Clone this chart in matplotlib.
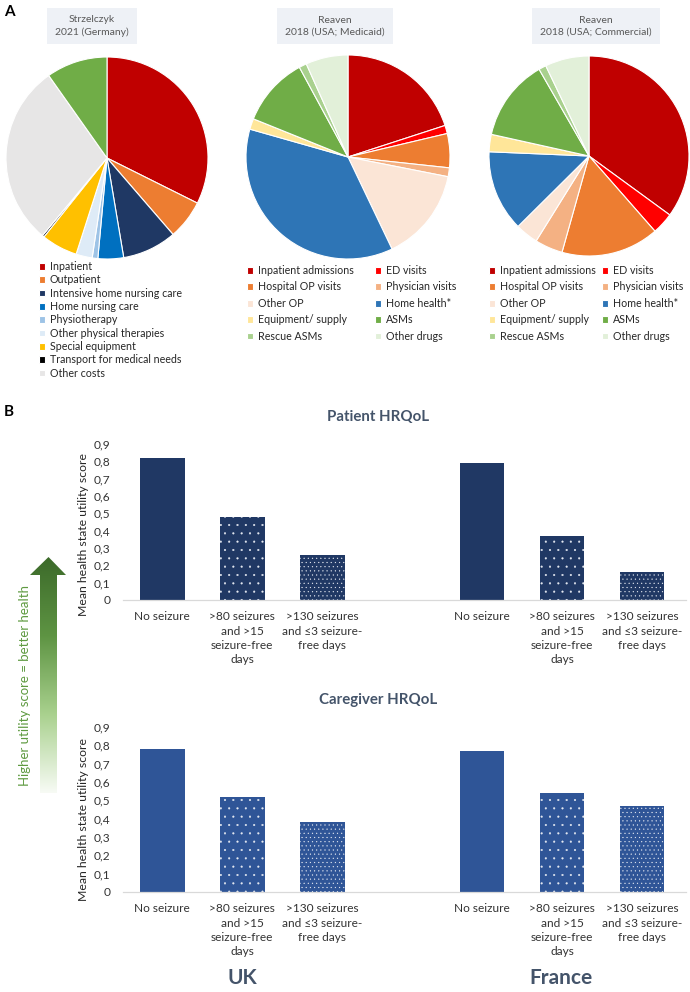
import matplotlib.pyplot as plt
import numpy as np
from matplotlib.colors import LinearSegmentedColormap
from matplotlib.patches import Polygon
from matplotlib.ticker import FuncFormatter

# --- panel A data: cost shares (%) ---
germany_labels = ["Inpatient", "Outpatient", "Intensive home nursing care", "Home nursing care",
                  "Physiotherapy", "Other physical therapies", "Special equipment",
                  "Transport for medical needs", "Other costs"]
germany_costs = [32.4, 6.3, 8.7, 4.1, 0.9, 2.6, 5.8, 0.3, 29.2, 9.8]  # last slice has no legend entry
germany_colors = ["#C00000", "#ED7D31", "#1F3864", "#0070C0", "#9DC3E6", "#DEEBF7",
                  "#FFC000", "#000000", "#E7E6E6", "#70AD47"]

reaven_labels = ["Inpatient admissions", "ED visits", "Hospital OP visits", "Physician visits",
                 "Other OP", "Home health*", "Equipment/ supply", "ASMs", "Rescue ASMs", "Other drugs"]
medicaid_costs = [20.0, 1.3, 5.4, 1.4, 14.8, 36.5, 1.7, 11.0, 1.2, 6.7]
commercial_costs = [35.0, 3.5, 15.8, 4.5, 3.7, 13.1, 2.8, 13.2, 1.2, 7.1]
reaven_colors = ["#C00000", "#FF0000", "#ED7D31", "#F4B183", "#FBE5D6",
                 "#2E75B6", "#FFE699", "#70AD47", "#A9D18E", "#E2F0D9"]

# --- panel B data: mean health state utility scores ---
states = ["No seizure", ">80 seizures\nand >15\nseizure-free\ndays",
          ">130 seizures\nand \u22643 seizure-\nfree days"]
countries = ["UK", "France"]
patient_uk = [0.82, 0.48, 0.26]
patient_fr = [0.79, 0.37, 0.16]
caregiver_uk = [0.78, 0.52, 0.38]
caregiver_fr = [0.77, 0.54, 0.47]
hatches = [None, "..", "...."]

plt.rcParams['font.family'] = ['Lato', 'DejaVu Sans']
plt.rcParams['hatch.linewidth'] = 0.3

W, H = 690, 992
fig = plt.figure(figsize=(6.9, 9.92), dpi=100)
fig.patch.set_facecolor("white")


def fx(x):
    return x / W


def fy(y):
    return 1 - y / H


def px_axes(x0, y0, x1, y1):
    return fig.add_axes([x0 / W, 1 - y1 / H, (x1 - x0) / W, (y1 - y0) / H])


# overlay for the gradient arrow
ov = fig.add_axes([0, 0, 1, 1])
ov.set_xlim(0, W)
ov.set_ylim(H, 0)
ov.axis('off')
arrow_pts = [(40, 793), (40, 575), (30, 575), (48.5, 557), (66, 575), (57, 575), (57, 793)]
arrow = Polygon(arrow_pts, closed=True, facecolor='none', edgecolor='none')
ov.add_patch(arrow)
green_cmap = LinearSegmentedColormap.from_list("g", ["#3C6A2A", "#5E9443", "#A9D18E", "#F8FBF5"])
im = ov.imshow(np.linspace(0, 1, 256).reshape(-1, 1), extent=[30, 66, 793, 557],
               cmap=green_cmap, aspect='auto')
im.set_clip_path(arrow)
fig.text(fx(25), fy(685), "Higher utility score = better health", rotation=90,
         ha='center', va='center', color='#5E9A40', fontsize=9.5)


def draw_pie(cx, cy, r, values, colors):
    pad = r * 1.03
    ax = px_axes(cx - pad, cy - pad, cx + pad, cy + pad)
    wedges, _ = ax.pie(values, colors=colors, startangle=90, counterclock=False,
                       wedgeprops=dict(edgecolor='white', linewidth=0.8))
    ax.set_xlim(-1.03, 1.03)
    ax.set_ylim(-1.03, 1.03)
    return wedges


def title_box(x, y, s):
    fig.text(fx(x), fy(y), s, ha='center', va='center', fontsize=7.5, color='#595959',
             linespacing=1.35, bbox=dict(boxstyle='square,pad=0.75', fc='#EEF1F6', ec='none'))


fig.text(fx(4), fy(12), "A", fontsize=11, fontweight='bold', va='center')
fig.text(fx(4), fy(412), "B", fontsize=11, fontweight='bold', va='center')

title_box(92, 26, "Strzelczyk\n2021 (Germany)")
title_box(335, 26, "Reaven\n2018 (USA; Medicaid)")
title_box(596, 26, "Reaven\n2018 (USA; Commercial)")

w1 = draw_pie(107, 158, 101, germany_costs, germany_colors)
w2 = draw_pie(348, 157, 102, medicaid_costs, reaven_colors)
w3 = draw_pie(589, 156, 100, commercial_costs, reaven_colors)

leg_kw = dict(loc='upper left', frameon=False, fontsize=7.7, handlelength=0.6, handleheight=0.6,
              handletextpad=0.4, borderpad=0, borderaxespad=0, labelcolor='#262626')
fig.legend(w1[:9], germany_labels, bbox_to_anchor=(fx(39), fy(261)), labelspacing=0.22, **leg_kw)

order = [0, 2, 4, 6, 8, 1, 3, 5, 7, 9]
fig.legend([w2[i] for i in order], [reaven_labels[i] for i in order], ncol=2,
           bbox_to_anchor=(fx(247), fy(265)), labelspacing=0.51, columnspacing=2.0, **leg_kw)
fig.legend([w3[i] for i in order], [reaven_labels[i] for i in order], ncol=2,
           bbox_to_anchor=(fx(489), fy(265)), labelspacing=0.51, columnspacing=0.6, **leg_kw)


def draw_bars(ax, uk, fr, color):
    uk_pos = np.arange(len(states))
    fr_pos = uk_pos + len(states) + 1
    for pos, vals in ((uk_pos, uk), (fr_pos, fr)):
        for p, v, h in zip(pos, vals, hatches):
            if h is None:
                ax.bar(p, v, width=0.56, color=color, linewidth=0)
            else:
                ax.bar(p, v, width=0.56, facecolor=color, edgecolor='#E6EAF2', hatch=h, linewidth=0)
    ax.set_xticks(np.concatenate([uk_pos, fr_pos]), labels=states * 2)
    ax.set_xlim(-0.49, 6.55)
    ax.set_ylim(0, 0.9)
    ax.set_yticks(np.arange(0, 0.91, 0.1))
    ax.yaxis.set_major_formatter(FuncFormatter(lambda v, p: ('%.1f' % v).replace('.', ',') if v > 1e-9 else '0'))
    for s in ['top', 'right', 'left']:
        ax.spines[s].set_visible(False)
    ax.spines['bottom'].set_color('#D9D9D9')
    ax.spines['bottom'].set_linewidth(0.9)
    ax.tick_params(axis='x', length=0, pad=8, labelsize=8.6, colors='#333333')
    ax.tick_params(axis='y', length=0, pad=9, labelsize=8.6, colors='#333333')
    for t in ax.get_xticklabels():
        t.set_linespacing(1.38)
    ax.set_ylabel("Mean health state utility score", fontsize=8.8, color='#262626')


ax_top = px_axes(123, 444, 686, 600)
draw_bars(ax_top, patient_uk, patient_fr, '#203864')
ax_top.yaxis.set_label_coords(-0.06, 0.417)

ax_bot = px_axes(123, 727, 686, 892)
draw_bars(ax_bot, caregiver_uk, caregiver_fr, '#2F5597')
ax_bot.yaxis.set_label_coords(-0.06, 0.44)

fig.text(fx(378), fy(417), "Patient HRQoL", ha='center', va='center', fontsize=10.8,
         fontweight='bold', color='#44546A')
fig.text(fx(378), fy(700), "Caregiver HRQoL", ha='center', va='center', fontsize=10.8,
         fontweight='bold', color='#44546A')
fig.text(fx(242), fy(978), countries[0], ha='center', va='center', fontsize=15,
         fontweight='bold', color='#44546A')
fig.text(fx(561), fy(978), countries[1], ha='center', va='center', fontsize=15,
         fontweight='bold', color='#44546A')

fig.savefig("out.png", dpi=100)
